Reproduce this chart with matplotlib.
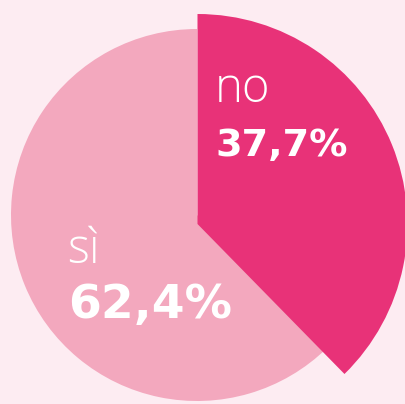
import matplotlib.pyplot as plt

# --- data ---
labels = ['no', 'sì']
values = [37.7, 62.4]
pct_text = [f"{v:.1f}".replace('.', ',') + '%' for v in values]

# --- style ---
bg = '#fdecf2'
col_no = '#e83278'
col_si = '#f3a8be'

W, H = 406, 404
fig = plt.figure(figsize=(W / 100, H / 100), dpi=100, facecolor=bg)
ax = fig.add_axes([0, 0, 1, 1])
ax.set_facecolor(bg)

# light pie underneath (only the "sì" slice is visible)
ax.pie(values, colors=['none', col_si], startangle=90, counterclock=False,
       radius=186, center=(197, H - 215), wedgeprops=dict(linewidth=0))
# the "no" slice on top, a bit bigger
ax.pie(values, colors=[col_no, 'none'], startangle=90, counterclock=False,
       radius=210, center=(197.5, H - 224), wedgeprops=dict(linewidth=0))

ax.set_xlim(0, W)
ax.set_ylim(0, H)
ax.set_aspect('equal')
ax.axis('off')

# labels
ax.text(215, H - 102, labels[0], fontsize=34, family='Open Sans',
        fontweight='light', color='white', ha='left', va='baseline')
ax.text(215, H - 156, pct_text[0], fontsize=27.5, family='DejaVu Sans',
        fontweight='bold', color='white', ha='left', va='baseline')
ax.text(67, H - 263, labels[1], fontsize=34, family='Open Sans',
        fontweight='light', color='white', ha='left', va='baseline')
ax.text(68, H - 318, pct_text[1], fontsize=34, family='DejaVu Sans',
        fontweight='bold', color='white', ha='left', va='baseline')

fig.savefig('out.png', dpi=100, facecolor=bg)
